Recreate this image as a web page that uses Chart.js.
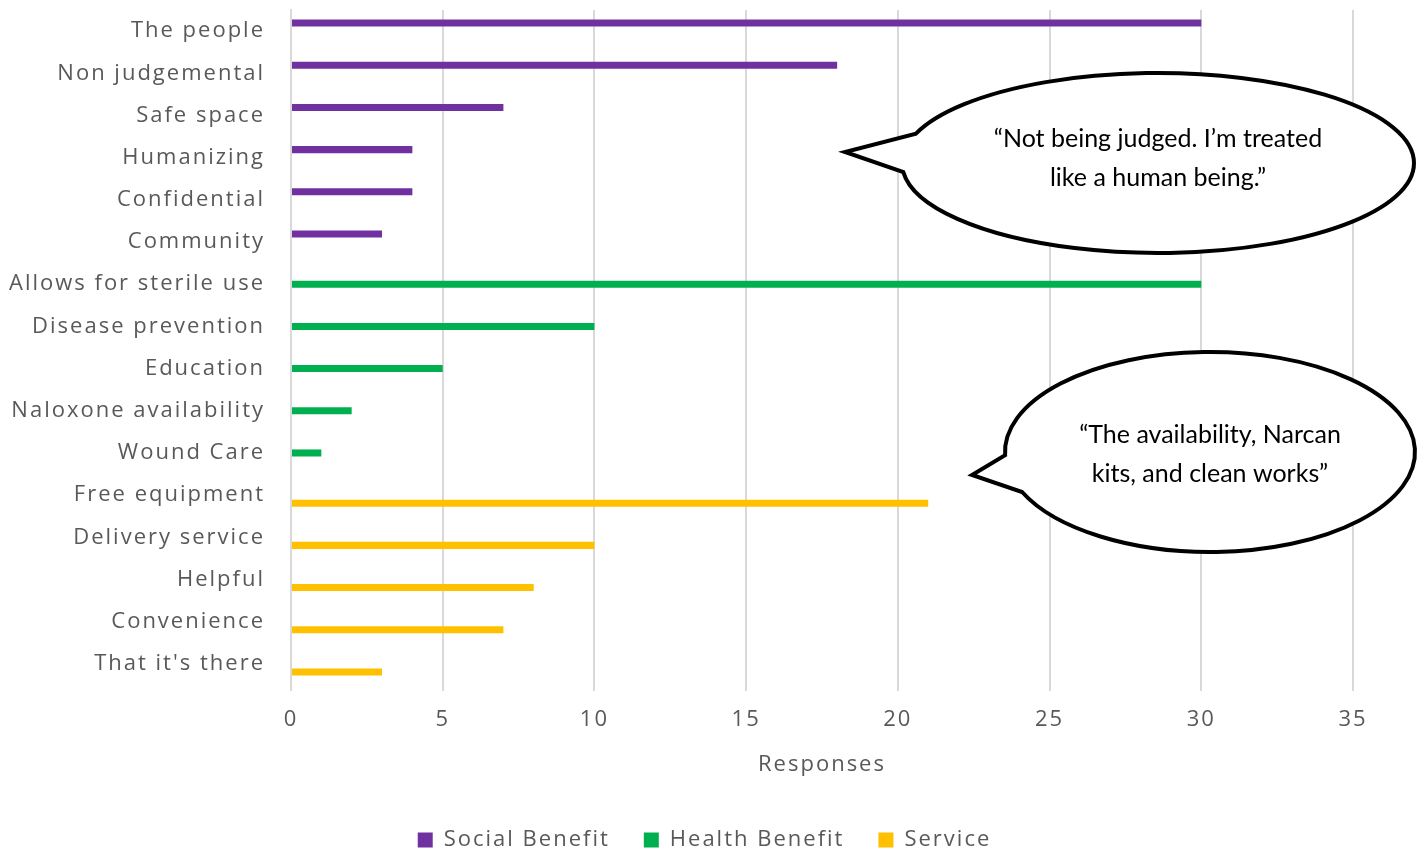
<!DOCTYPE html>
<html>
<head>
<meta charset="utf-8">
<script src="https://cdn.jsdelivr.net/npm/chart.js@4"></script>
<style>
  html, body { margin: 0; padding: 0; background: #fff; }
  #wrap { width: 1428px; height: 852px; }
</style>
</head>
<body>
<div id="wrap"><canvas id="myChart" width="1428" height="852"></canvas></div>
<script>
const categories = [
  "The people", "Non judgemental", "Safe space", "Humanizing", "Confidential", "Community",
  "Allows for sterile use", "Disease prevention", "Education", "Naloxone availability", "Wound Care",
  "Free equipment", "Delivery service", "Helpful", "Convenience", "That it's there"
];
const socialBenefit = [30, 18, 7, 4, 4, 3, null, null, null, null, null, null, null, null, null, null];
const healthBenefit = [null, null, null, null, null, null, 30, 10, 5, 2, 1, null, null, null, null, null];
const service = [null, null, null, null, null, null, null, null, null, null, null, 21, 10, 8, 7, 3];
const xTicks = [0, 5, 10, 15, 20, 25, 30, 35];

const quotes = [
  { cx: 1158, cy: 163, rx: 256, ry: 90, a1: -2.81, a2: 3.04, tip: [845, 152],
    lines: ["\u201CNot being judged. I\u2019m treated", "like a human being.\u201D"], y: [139, 178] },
  { cx: 1210, cy: 452, rx: 205, ry: 100, a1: 3.11, a2: 2.73 + Math.PI * 2, tip: [972, 475],
    lines: ["\u201CThe availability, Narcan", "kits, and clean works\u201D"], y: [435, 474] }
];

const labelFont = { family: "'Open Sans', sans-serif", size: 22 };

// axis and legend text is set with wide tracking
const tracking = {
  id: "tracking",
  beforeLayout(chart) { chart.ctx.letterSpacing = "2px"; },
  beforeDraw(chart) { chart.ctx.letterSpacing = "2px"; },
  // legend sits a little right of the canvas centre
  afterLayout(chart) {
    chart.legend.left += 28;
    chart.legend.right += 28;
  }
};

// speech bubbles drawn over the plot
const bubblePlugin = {
  id: "bubbles",
  afterDraw(chart) {
    const ctx = chart.ctx;
    ctx.save();
    ctx.letterSpacing = "0px";
    quotes.forEach(q => {
      ctx.beginPath();
      ctx.ellipse(q.cx, q.cy, q.rx, q.ry, 0, q.a1, q.a2, false);
      ctx.lineTo(q.tip[0], q.tip[1]);
      ctx.closePath();
      ctx.fillStyle = "#fff";
      ctx.fill();
      ctx.lineWidth = 4;
      ctx.lineJoin = "miter";
      ctx.strokeStyle = "#000";
      ctx.stroke();
      ctx.fillStyle = "#000";
      ctx.font = "25px Lato, 'Open Sans', sans-serif";
      ctx.textAlign = "center";
      ctx.textBaseline = "middle";
      q.lines.forEach((t, i) => ctx.fillText(t, q.cx, q.y[i]));
    });
    ctx.restore();
  }
};

new Chart(document.getElementById("myChart"), {
  type: "bar",
  data: {
    labels: categories,
    datasets: [
      { label: "Social Benefit", data: socialBenefit, backgroundColor: "#7030A0" },
      { label: "Health Benefit", data: healthBenefit, backgroundColor: "#00B050" },
      { label: "Service", data: service, backgroundColor: "#FFC000" }
    ]
  },
  options: {
    indexAxis: "y",
    responsive: false,
    animation: false,
    categoryPercentage: 0.57,
    barPercentage: 0.88,
    layout: { padding: { top: 10, right: 75, bottom: -9, left: 0 } },
    scales: {
      x: {
        min: 0,
        max: 35,
        afterBuildTicks: s => { s.ticks = xTicks.map(v => ({ value: v })); },
        grid: { color: "#d9d9d9", lineWidth: 2, tickLength: 6, drawTicks: true },
        border: { display: false },
        ticks: { color: "#595959", font: labelFont, padding: 16 },
        title: { display: true, text: "Responses", color: "#595959", font: labelFont, padding: { top: 10, bottom: 17 } },
        afterFit: s => { s.height = 110; s.paddingLeft = 0; s.paddingRight = 0; }
      },
      y: {
        grid: { display: false },
        border: { color: "#d9d9d9", width: 2 },
        ticks: { color: "#595959", font: labelFont, padding: 18 },
        afterFit: s => { s.width = 291; s.paddingTop = 0; s.paddingBottom = 0; }
      }
    },
    plugins: {
      legend: {
        position: "bottom",
        labels: {
          color: "#595959",
          font: labelFont,
          boxWidth: 15,
          boxHeight: 15,
          padding: 34
        }
      },
      tooltip: { enabled: false }
    }
  },
  plugins: [tracking, bubblePlugin]
});
</script>
</body>
</html>
